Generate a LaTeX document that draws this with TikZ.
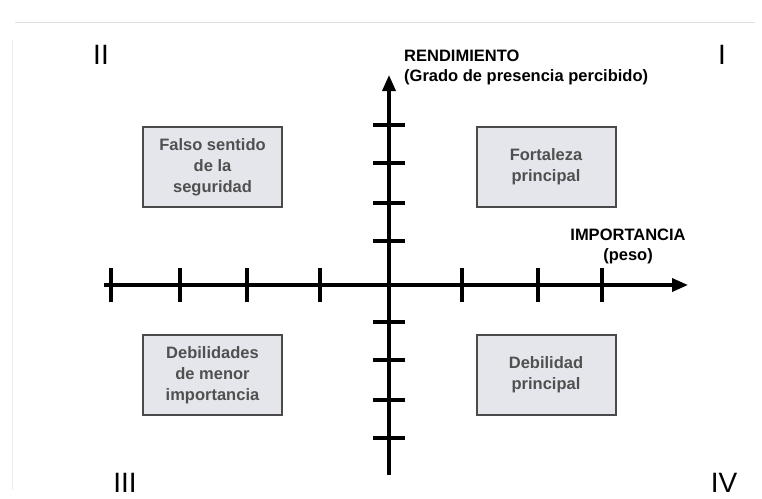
\documentclass[tikz,border=0pt]{standalone}
\usepackage{fontspec}
\setmainfont{Liberation Sans}
\usetikzlibrary{arrows.meta}
\definecolor{boxfill}{HTML}{E4E6EC}
\definecolor{boxdraw}{HTML}{4A4A4A}
\definecolor{boxtext}{HTML}{505050}
\begin{document}
\begin{tikzpicture}[x=1pt,y=-1pt,
  quad/.style={draw=boxdraw,line width=2pt,fill=boxfill,minimum width=139pt,minimum height=80pt,
    align=center,font=\bfseries\fontsize{16.5}{21}\selectfont,text=boxtext,inner sep=0pt},
  axis/.style={line width=3.5pt,-{Triangle[length=16pt,width=13pt]}},
  tick/.style={line width=3.5pt},
  roman/.style={font=\fontsize{28}{28}\selectfont,inner sep=0pt},
  lab/.style={font=\bfseries\fontsize{16.5}{20}\selectfont,inner sep=0pt}]
\useasboundingbox (0,0) rectangle (762,498);
\fill[white] (0,0) rectangle (762,498);
% faint scan lines
\draw[black!12,line width=1pt] (15,22) -- (755,22);
\draw[black!8,line width=0.8pt] (12,40) -- (12,490);
% axes
\coordinate (O) at (389,285);
\coordinate (xl) at (104,285);
\coordinate (xr) at (688,285);
\coordinate (yb) at (389,475);
\coordinate (yt) at (389,75);
\draw[axis] (xl) -- (xr);
\draw[axis] (yb) -- (yt);
% ticks x
\foreach \x in {111,180,247,320,462,538,602}
  \draw[tick] (\x,268) -- (\x,302);
% ticks y
\foreach \y in {125,163,203,241,322,360,400,438}
  \draw[tick] (373,\y) -- (405,\y);
% boxes
\node[quad] (b2) at (212.5,167) {Falso sentido\\de la\\seguridad};
\node[quad] (b1) at (546,167) {Fortaleza\\principal};
\node[quad] (b3) at (212.5,375) {Debilidades\\de menor\\importancia};
\node[quad] (b4) at (546,375) {Debilidad\\principal};
% labels
\node[lab,anchor=west,align=left] (rend) at (404,67) {RENDIMIENTO\\(Grado de presencia percibido)};
\node[lab,align=center] (imp) at (628,246) {IMPORTANCIA\\(peso)};
% roman numerals
\node[roman] (q2) at (101,55) {II};
\node[roman] (q1) at (722,55) {I};
\node[roman] (q3) at (125,483) {III};
\node[roman] (q4) at (724,483) {IV};
\end{tikzpicture}
\end{document}
